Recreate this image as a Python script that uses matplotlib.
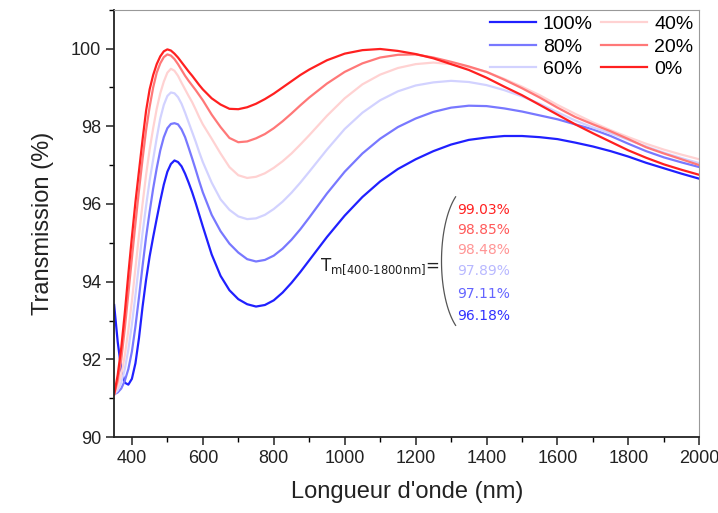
import numpy as np
import matplotlib
matplotlib.use('Agg')
import matplotlib.pyplot as plt
from matplotlib.ticker import MultipleLocator

plt.rcParams['font.family'] = ['Liberation Sans', 'DejaVu Sans']
plt.rcParams['mathtext.default'] = 'regular'

# wavelength grid (nm)
wl = [350, 360, 370, 380, 390, 400, 410, 420, 430, 440, 450, 460, 470, 480, 490, 500,
      510, 520, 530, 540, 550, 560, 570, 580, 590, 600,
      625, 650, 675, 700, 725, 750, 775, 800, 825, 850, 875, 900,
      950, 1000, 1050, 1100, 1150, 1200, 1250, 1300, 1350, 1400, 1450, 1500, 1550,
      1600, 1650, 1700, 1750, 1800, 1850, 1900, 1950, 2000]

t100 = [93.4, 92.45, 91.75, 91.4, 91.35, 91.5, 91.9, 92.55, 93.35, 94.05, 94.65, 95.15,
        95.62, 96.08, 96.5, 96.83, 97.03, 97.12, 97.08, 96.97, 96.78, 96.55, 96.3, 96.02,
        95.72, 95.42,
        94.7, 94.15, 93.78, 93.55, 93.42, 93.36, 93.4, 93.52, 93.72, 93.97, 94.25, 94.55,
        95.15, 95.7, 96.18, 96.58, 96.9, 97.15, 97.36, 97.53, 97.65, 97.71, 97.75, 97.75,
        97.72, 97.67, 97.58, 97.48, 97.36, 97.22, 97.06, 96.92, 96.78, 96.65]
t80 = [91.1, 91.15, 91.25, 91.45, 91.75, 92.2, 92.85, 93.6, 94.4, 95.15, 95.8, 96.4,
       96.92, 97.38, 97.72, 97.95, 98.06, 98.08, 98.05, 97.92, 97.72, 97.45, 97.17, 96.88,
       96.58, 96.3,
       95.72, 95.3, 94.98, 94.75, 94.58, 94.52, 94.56, 94.67, 94.85, 95.08, 95.35, 95.65,
       96.27, 96.83, 97.3, 97.68, 97.98, 98.2, 98.37, 98.48, 98.53, 98.52, 98.46, 98.38,
       98.28, 98.18, 98.05, 97.92, 97.75, 97.55, 97.36, 97.2, 97.07, 96.95]
t60 = [91.1, 91.2, 91.4, 91.75, 92.25, 92.9, 93.65, 94.45, 95.25, 95.95, 96.6, 97.15,
       97.7, 98.2, 98.55, 98.78, 98.87, 98.85, 98.75, 98.58, 98.35, 98.1, 97.85, 97.6,
       97.33, 97.08,
       96.55, 96.12, 95.85, 95.68, 95.61, 95.63, 95.72, 95.87, 96.06, 96.29, 96.55, 96.83,
       97.4, 97.93, 98.35, 98.67, 98.9, 99.05, 99.13, 99.17, 99.14, 99.06, 98.93, 98.77,
       98.58, 98.36, 98.15, 97.97, 97.82, 97.65, 97.48, 97.32, 97.18, 97.05]
t40 = [91.1, 91.3, 91.6, 92.1, 92.75, 93.5, 94.35, 95.2, 96.0, 96.75, 97.4, 97.95,
       98.45, 98.85, 99.15, 99.38, 99.48, 99.43, 99.3, 99.12, 98.95, 98.78, 98.62, 98.43,
       98.23, 98.05,
       97.68, 97.3, 96.95, 96.74, 96.67, 96.7, 96.79, 96.93, 97.1, 97.3, 97.53, 97.77,
       98.27, 98.72, 99.08, 99.33, 99.5, 99.6, 99.64, 99.6, 99.52, 99.4, 99.22, 99.02,
       98.8, 98.55, 98.32, 98.1, 97.9, 97.72, 97.55, 97.4, 97.27, 97.15]
t20 = [91.1, 91.45, 92.0, 92.8, 93.7, 94.6, 95.5, 96.35, 97.15, 97.9, 98.5, 99.0,
       99.38, 99.62, 99.78, 99.85, 99.82, 99.73, 99.6, 99.45, 99.3, 99.17, 99.05, 98.93,
       98.8, 98.67,
       98.3, 97.98, 97.7, 97.59, 97.61, 97.69, 97.8, 97.95, 98.13, 98.33, 98.54, 98.74,
       99.1, 99.4, 99.62, 99.77, 99.84, 99.85, 99.77, 99.66, 99.54, 99.4, 99.2, 98.98,
       98.74, 98.48, 98.24, 98.05, 97.87, 97.67, 97.46, 97.3, 97.15, 97.0]
t0 = [91.1, 91.6, 92.3, 93.2, 94.2, 95.15, 96.05, 96.85, 97.65, 98.4, 98.95, 99.32,
      99.6, 99.8, 99.93, 99.98, 99.95, 99.87, 99.77, 99.65, 99.53, 99.41, 99.3, 99.18,
      99.06, 98.95,
      98.72, 98.56, 98.45, 98.44, 98.49, 98.58, 98.7, 98.84, 99.0, 99.16, 99.32, 99.46,
      99.7, 99.87, 99.96, 99.99, 99.94, 99.86, 99.75, 99.6, 99.45, 99.25, 99.02, 98.8,
      98.55, 98.3, 98.05, 97.82, 97.6, 97.38, 97.19, 97.02, 96.88, 96.75]

labels = ['100%', '80%', '60%', '40%', '20%', '0%']
series = [t100, t80, t60, t40, t20, t0]
colors = ['#2020ff', '#7878ff', '#d2d2ff', '#ffd2d2', '#ff7878', '#ff2020']

tm_values = ['99.03%', '98.85%', '98.48%', '97.89%', '97.11%', '96.18%']
tm_colors = ['#ff2020', '#ff5a5a', '#ff9595', '#b8b8ff', '#6464ff', '#3030ff']
tm_y = [95.85, 95.34, 94.82, 94.28, 93.69, 93.12]

fig = plt.figure(figsize=(7.18, 5.13), dpi=100)
ax = fig.add_axes([0.159, 0.148, 0.815, 0.833])

for s, lab, c in zip(series, labels, colors):
    ax.plot(wl, s, color=c, lw=1.6, label=lab)

ax.set_xlim(350, 2000)
ax.set_ylim(90, 101)
ax.xaxis.set_major_locator(MultipleLocator(200))
ax.xaxis.set_minor_locator(MultipleLocator(100))
ax.yaxis.set_major_locator(MultipleLocator(2))
ax.yaxis.set_minor_locator(MultipleLocator(1))
ax.tick_params(which='major', direction='out', length=6, width=1.1, labelsize=13,
               colors='#222222', top=False, right=False)
ax.tick_params(which='minor', direction='out', length=3.5, width=1.0, top=False, right=False)

for sp in ['left', 'bottom']:
    ax.spines[sp].set_linewidth(1.3)
    ax.spines[sp].set_color('#222222')
for sp in ['top', 'right']:
    ax.spines[sp].set_linewidth(0.8)
    ax.spines[sp].set_color('#999999')

ax.set_xlabel("Longueur d'onde (nm)", fontsize=17, color='#222222', labelpad=10)
ax.set_ylabel('Transmission (%)', fontsize=17, color='#222222', labelpad=12)

ax.legend(loc='upper right', ncol=2, frameon=False, fontsize=14,
          handlelength=2.4, handletextpad=0.35, columnspacing=0.4,
          labelspacing=0.25, borderaxespad=0.1, borderpad=0.2)

# mean transmission annotation
ax.text(1268, 94.4, r'T$_\text{m[400-1800nm]}$=', fontsize=12,
        family=['DejaVu Sans'], color='#222222', ha='right', va='center')
th = np.radians(np.linspace(121, 239, 60))
ax.plot(1355 + 82 * np.cos(th), 94.53 + 1.93 * np.sin(th), color='#555555', lw=0.9)
for v, c, y in zip(tm_values, tm_colors, tm_y):
    ax.text(1317, y, v, fontsize=10, family=['DejaVu Sans'], color=c,
            ha='left', va='center')

fig.savefig('out.png', dpi=100)
